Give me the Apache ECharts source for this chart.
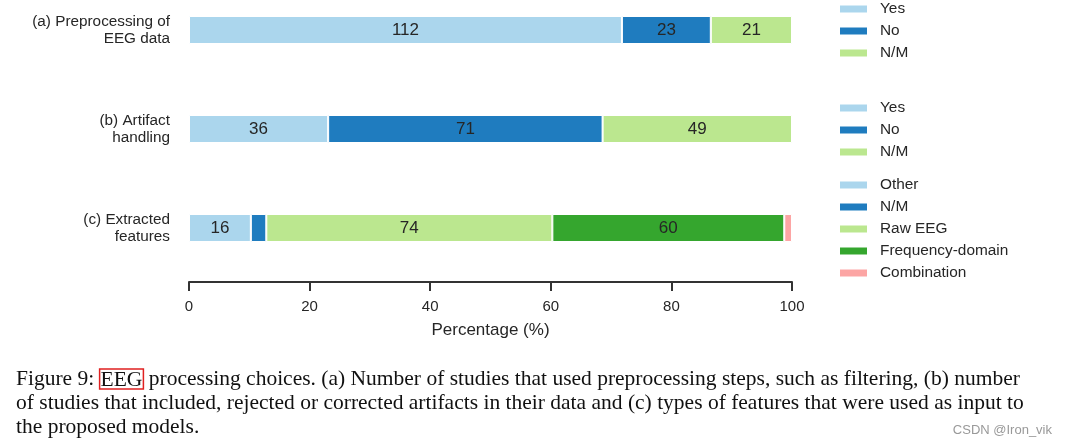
<!DOCTYPE html>
<html>
<head>
<meta charset="utf-8">
<script src="https://cdn.jsdelivr.net/npm/echarts@6/dist/echarts.min.js"></script>
<style>
html,body{margin:0;padding:0;background:#fff;}
#chart{width:1068px;height:448px;}
</style>
</head>
<body>
<div id="chart"></div>
<script>
// ---- data ----
const categories = ['(a) Preprocessing of\nEEG data', '(b) Artifact\nhandling', '(c) Extracted\nfeatures'];
const prepNames = ['Yes', 'No', 'N/M'];
const prepCounts = [112, 23, 21];
const artifactNames = ['Yes', 'No', 'N/M'];
const artifactCounts = [36, 71, 49];
const featureNames = ['Other', 'N/M', 'Raw EEG', 'Frequency-domain', 'Combination'];
const featureCounts = [16, 4, 74, 60, 2];
const xTicks = [0, 20, 40, 60, 80, 100];
const palette = ['#abd6ed', '#1f7cbf', '#bbe78f', '#35a62e', '#fca5a4'];

const rows = [
  {names: prepNames, counts: prepCounts},
  {names: artifactNames, counts: artifactCounts},
  {names: featureNames, counts: featureCounts}
];

const textColor = '#262626';
const series = [];
rows.forEach((row, r) => {
  const total = row.counts.reduce((a, b) => a + b, 0);
  row.names.forEach((nm, k) => {
    const data = categories.map((c, i) => i === r ? row.counts[k] / total * 100 : '-');
    series.push({
      type: 'bar',
      name: nm,
      stack: 'all',
      barWidth: 28,
      data: data,
      itemStyle: {color: palette[k], borderColor: '#fff', borderWidth: 1},
      label: {
        show: row.counts[k] >= 10,
        position: 'inside',
        formatter: () => String(row.counts[k]),
        color: textColor,
        fontSize: 17,
        fontFamily: 'Liberation Sans'
      },
      emphasis: {disabled: true}
    });
  });
});

function legendFor(names, top) {
  return {
    orient: 'vertical',
    left: 838,
    top: top,
    padding: 0,
    itemWidth: 29,
    itemHeight: 9,
    itemGap: 6,
    icon: 'rect',
    selectedMode: false,
    textStyle: {fontSize: 15.4, fontFamily: 'Liberation Sans', color: textColor, lineHeight: 16, padding: [0, 0, 0, 7]},
    data: names.map((n, k) => ({name: n, itemStyle: {color: palette[k]}}))
  };
}

const chart = echarts.init(document.getElementById('chart'), null, {renderer: 'canvas'});
chart.setOption({
  animation: false,
  backgroundColor: '#fff',
  grid: {left: 189, right: 276, top: 30, height: 198, containLabel: false},
  xAxis: {
    type: 'value',
    min: xTicks[0],
    max: xTicks[xTicks.length - 1],
    interval: 20,
    position: 'bottom',
    offset: 54,
    splitLine: {show: false},
    axisLine: {show: true, lineStyle: {color: '#333', width: 2}},
    axisTick: {show: true, length: 9, lineStyle: {color: '#333', width: 2}},
    axisLabel: {fontSize: 15, fontFamily: 'Liberation Sans', color: textColor, margin: 17},
    name: 'Percentage (%)',
    nameLocation: 'middle',
    nameGap: 40,
    nameTextStyle: {fontSize: 17, fontFamily: 'Liberation Sans', color: textColor}
  },
  yAxis: {
    type: 'category',
    data: categories,
    inverse: true,
    boundaryGap: false,
    axisLine: {show: false},
    axisTick: {show: false},
    splitLine: {show: false},
    axisLabel: {fontSize: 15.3, fontFamily: 'Liberation Sans', color: textColor, margin: 19, lineHeight: 17, align: 'right'}
  },
  legend: [
    legendFor(prepNames, 1),
    legendFor(artifactNames, 100),
    legendFor(featureNames, 177)
  ],
  series: series,
  graphic: [
    {
      type: 'text', left: 16, top: 368,
      style: {
        text: 'Figure 9: {box|EEG} processing choices. (a) Number of studies that used preprocessing steps, such as filtering, (b) number',
        fontSize: 21.5, fontFamily: 'Liberation Serif', fill: '#111',
        rich: {box: {fontSize: 21.5, fontFamily: 'Liberation Serif', borderColor: '#e02020', borderWidth: 1.5, padding: [0, 1, -2, 1]}}
      }
    },
    {
      type: 'text', left: 16, top: 392,
      style: {
        text: 'of studies that included, rejected or corrected artifacts in their data and (c) types of features that were used as input to',
        fontSize: 21.5, fontFamily: 'Liberation Serif', fill: '#111'
      }
    },
    {
      type: 'text', left: 16, top: 416,
      style: {text: 'the proposed models.', fontSize: 21.5, fontFamily: 'Liberation Serif', fill: '#111'}
    },
    {
      type: 'text', right: 16, top: 424,
      style: {text: 'CSDN @Iron_vik', fontSize: 13, fontFamily: 'Liberation Sans', fill: '#999'}
    }
  ]
});
</script>
</body>
</html>
